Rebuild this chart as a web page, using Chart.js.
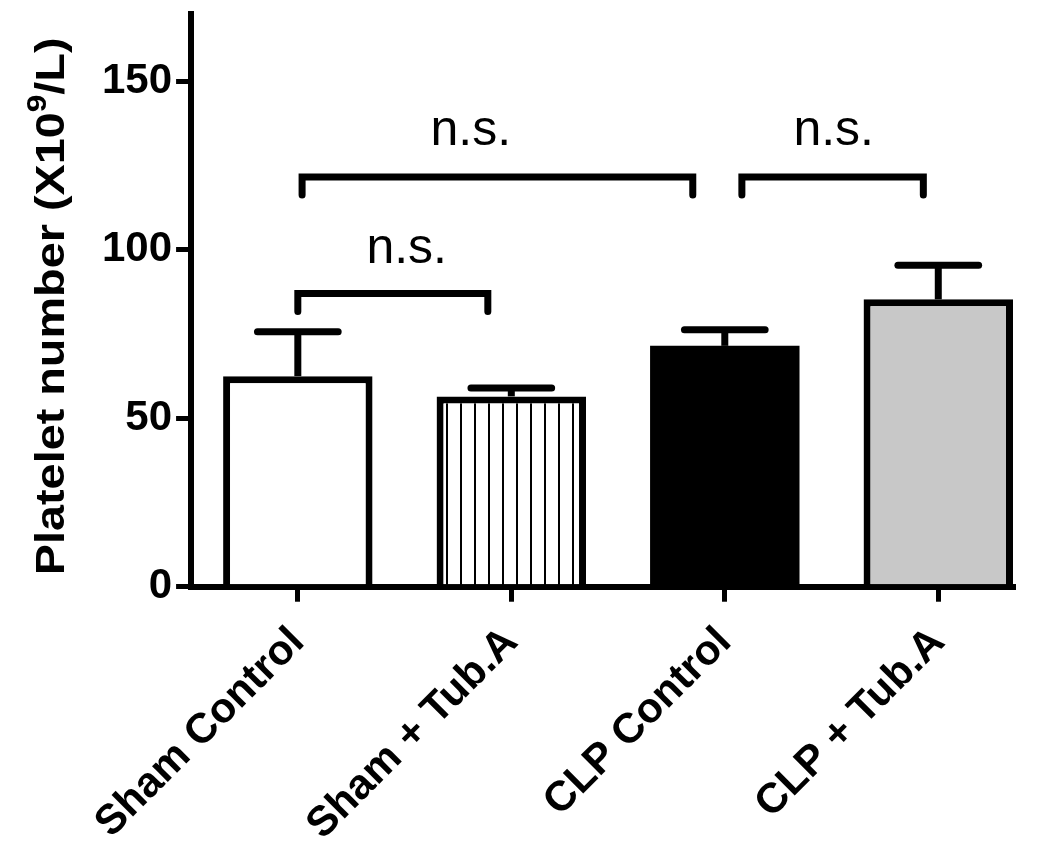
<!DOCTYPE html>
<html lang="en">
  <head>
    <meta charset="UTF-8" />
    <title>Platelet number</title>
    <script src="https://cdn.jsdelivr.net/npm/chart.js"></script>
    <style>
      body { margin: 0; background: #fff; }
      #wrap { width: 1050px; height: 861px; }
    </style>
  </head>
  <body>
    <div id="wrap"><canvas id="myChart"></canvas></div>
    <script>
      // values
      const categories = ["Sham Control", "Sham + Tub.A", "CLP Control", "CLP + Tub.A"];
      const means = [62.5, 56.5, 71.5, 85.3];
      const sem = [13.2, 2.5, 4.8, 10.1];
      const yTicks = [0, 50, 100, 150];

      // significance brackets (x in category units, y in data units)
      const bracketFrom = [0.02, 2.08, 0.0];
      const bracketTo = [1.85, 2.93, 0.89];
      const bracketLevel = [121.6, 121.6, 87];
      const bracketLabel = ["n.s.", "n.s.", "n.s."];
      const labelX = [0.81, 2.51, 0.51];
      const labelLevel = [131.2, 131.2, 96];

      const FONT = "'Liberation Sans', Arial, Helvetica, sans-serif";

      // vertical stripes for the Sham + Tub.A bar
      const pc = document.createElement("canvas");
      pc.width = 14;
      pc.height = 14;
      const pctx = pc.getContext("2d");
      pctx.fillStyle = "#fff";
      pctx.fillRect(0, 0, 14, 14);
      pctx.fillStyle = "#000";
      pctx.fillRect(12, 0, 2, 14);
      const stripes = pctx.createPattern(pc, "repeat");

      const errorBars = {
        id: "errorBars",
        afterDatasetsDraw(chart) {
          const { ctx, scales } = chart;
          const bar = chart.getDatasetMeta(0).data[0];
          const half = bar.width * 0.27;
          ctx.save();
          ctx.strokeStyle = "#000";
          ctx.lineWidth = 7;
          means.forEach((m, i) => {
            const x = scales.x.getPixelForValue(i);
            const y0 = scales.y.getPixelForValue(m);
            const y1 = scales.y.getPixelForValue(m + sem[i]);
            ctx.lineCap = "butt";
            ctx.beginPath();
            ctx.moveTo(x, y0);
            ctx.lineTo(x, y1);
            ctx.stroke();
            ctx.lineCap = "round";
            ctx.beginPath();
            ctx.moveTo(x - half, y1);
            ctx.lineTo(x + half, y1);
            ctx.stroke();
          });
          ctx.restore();
        },
      };

      const brackets = {
        id: "brackets",
        afterDraw(chart) {
          const { ctx, scales } = chart;
          const drop = 5.3;
          ctx.save();
          ctx.strokeStyle = "#000";
          ctx.lineWidth = 7;
          ctx.lineCap = "round";
          ctx.lineJoin = "miter";
          bracketFrom.forEach((f, i) => {
            const x1 = scales.x.getPixelForValue(f);
            const x2 = scales.x.getPixelForValue(bracketTo[i]);
            const yh = scales.y.getPixelForValue(bracketLevel[i]);
            const yl = scales.y.getPixelForValue(bracketLevel[i] - drop);
            ctx.beginPath();
            ctx.moveTo(x1, yl);
            ctx.lineTo(x1, yh);
            ctx.lineTo(x2, yh);
            ctx.lineTo(x2, yl);
            ctx.stroke();
            ctx.fillStyle = "#000";
            ctx.font = "50px " + FONT;
            ctx.textAlign = "center";
            ctx.textBaseline = "alphabetic";
            ctx.fillText(
              bracketLabel[i],
              scales.x.getPixelForValue(labelX[i]),
              scales.y.getPixelForValue(labelLevel[i])
            );
          });
          ctx.restore();
        },
      };

      const yTitle = {
        id: "yTitle",
        afterDraw(chart) {
          const { ctx, chartArea } = chart;
          const main = "bold 40px " + FONT;
          const sup = "bold 27px " + FONT;
          const a = "Platelet number (X10";
          const s = "9";
          const b = "/L)";
          const sx = 1.17;
          ctx.save();
          ctx.font = main;
          const wa = ctx.measureText(a).width;
          const wb = ctx.measureText(b).width;
          ctx.font = sup;
          const ws = ctx.measureText(s).width;
          const total = wa + ws + wb;
          ctx.translate(50, (chartArea.top + chartArea.bottom) / 2 + 6);
          ctx.rotate(-Math.PI / 2);
          ctx.scale(sx, 1);
          ctx.fillStyle = "#000";
          ctx.textAlign = "left";
          ctx.textBaseline = "alphabetic";
          let x = -total / 2;
          ctx.font = main;
          ctx.fillText(a, x, 14);
          x += wa;
          ctx.font = sup;
          ctx.fillText(s, x, -4);
          x += ws;
          ctx.font = main;
          ctx.fillText(b, x, 14);
          ctx.restore();
        },
      };

      const ctx = document.getElementById("myChart").getContext("2d");
      const myChart = new Chart(ctx, {
        type: "bar",
        data: {
          datasets: [
            {
              data: means.map((m, i) => ({ x: i, y: m })),
              backgroundColor: ["#ffffff", stripes, "#000000", "#c8c8c8"],
              borderColor: "#000",
              borderWidth: [7, 7, 0, 7],
              barPercentage: 0.7,
              categoryPercentage: 1.0,
            },
          ],
        },
        options: {
          responsive: true,
          maintainAspectRatio: false,
          animation: false,
          layout: { padding: { left: 98, top: 14, right: 37, bottom: -5 } },
          plugins: {
            legend: { display: false },
            tooltip: { enabled: false },
          },
          scales: {
            x: {
              type: "linear",
              min: -0.5,
              max: 3.35,
              offset: false,
              grid: { offset: false, drawOnChartArea: false, tickLength: 15, lineWidth: 5, color: "#000" },
              border: { width: 6, color: "#000" },
              ticks: {
                stepSize: 1,
                includeBounds: false,
                autoSkip: false,
                maxRotation: 45,
                minRotation: 45,
                padding: 16,
                color: "#000",
                font: { family: FONT, size: 42, weight: "bold" },
                callback: (v) => categories[v],
              },
            },
            y: {
              min: 0,
              max: 170,
              grid: { drawOnChartArea: false, tickLength: 15, lineWidth: 5, color: "#000" },
              border: { width: 6, color: "#000" },
              afterBuildTicks: (scale) => {
                scale.ticks = yTicks.map((v) => ({ value: v }));
              },
              afterFit: (scale) => {
                scale.paddingTop = 0;
              },
              ticks: {
                padding: 4,
                color: "#000",
                font: { family: FONT, size: 42, weight: "bold" },
              },
            },
          },
        },
        plugins: [errorBars, brackets, yTitle],
      });
    </script>
  </body>
</html>
